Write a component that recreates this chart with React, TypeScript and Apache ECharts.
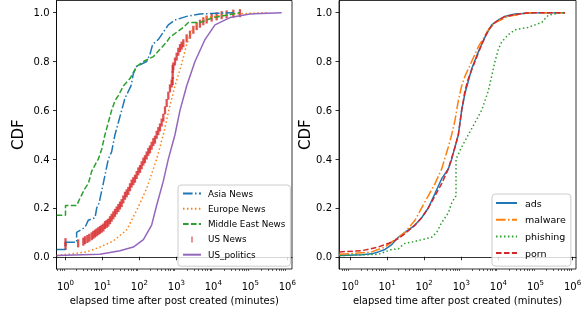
import React, { useEffect, useRef } from 'react';
import * as echarts from 'echarts';

const FONT = 'DejaVu Sans';
const X_NAME = 'elapsed time after post created (minutes)';
const Y_NAME = 'CDF';
const X_MAJOR = [1, 10, 100, 1000, 10000, 100000, 1000000];
const X_MINOR_DECADES = [0.1, 1, 10, 100, 1000, 10000, 100000];
const X_MINOR_STEPS = [2, 3, 4, 5, 6, 7, 8, 9];
const X_MINOR: number[] = [];
X_MINOR_DECADES.forEach((d) => X_MINOR_STEPS.forEach((k) => X_MINOR.push(k * d)));
const Y_TICKS = [0, 0.2, 0.4, 0.6, 0.8, 1.0];

// Left panel (news categories): [minutes, CDF]
const asiaNews = [[0.58,0.03],[1,0.03],[1,0.06],[2,0.06],[2,0.10],[3.37,0.12],[4.15,0.15],[6.3,0.16],[7.0,0.20],[8.1,0.22],[10.5,0.30],[14.4,0.40],[17.7,0.43],[21.8,0.50],[26.9,0.55],[33.1,0.60],[40.7,0.65],[59.1,0.70],[68.4,0.75],[84.2,0.78],[157,0.80],[193,0.83],[228,0.87],[324,0.89],[443,0.92],[605,0.95],[916,0.97],[1895,0.985],[4349,0.995],[34660,1.0]];
const europeNews = [[0.58,0.005],[1.08,0.01],[3.74,0.02],[8.6,0.04],[19.7,0.065],[45.2,0.11],[84.2,0.19],[157,0.28],[292,0.40],[443,0.50],[671,0.62],[916,0.70],[1388,0.79],[1895,0.87],[2871,0.94],[6588,0.98],[34660,0.995],[277000,1.0]];
const middleEastNews = [[0.58,0.17],[1,0.17],[1,0.21],[2,0.21],[2.47,0.24],[3.37,0.28],[4.15,0.30],[5.1,0.35],[7.0,0.39],[7.7,0.40],[9.5,0.44],[11.7,0.50],[14.4,0.55],[17.7,0.60],[21.8,0.64],[26.9,0.66],[36.7,0.70],[55.6,0.73],[84.2,0.78],[128,0.80],[238,0.82],[360,0.85],[546,0.88],[671,0.90],[1016,0.92],[1540,0.94],[2102,0.96],[4349,0.96],[6588,0.97],[9980,0.98],[15100,0.985],[52480,1.0]];
const usNews = [[1,0.045],[1,0.06],[2.2,0.055],[3.04,0.062],[3.37,0.068],[3.9,0.073],[4.41,0.078],[5.1,0.084],[5.66,0.09],[6.28,0.095],[6.97,0.10],[7.73,0.105],[8.58,0.11],[9.51,0.115],[10.6,0.12],[11.7,0.13],[13.0,0.135],[14.4,0.14],[16.0,0.15],[17.7,0.16],[19.7,0.17],[21.8,0.18],[24.2,0.19],[26.9,0.20],[29.8,0.21],[33.1,0.22],[36.7,0.235],[40.7,0.25],[45.2,0.26],[50.1,0.27],[55.6,0.285],[61.6,0.30],[68.4,0.31],[75.9,0.32],[84.2,0.335],[93.4,0.35],[104,0.36],[115,0.375],[128,0.39],[141,0.40],[157,0.415],[174,0.43],[193,0.44],[214,0.455],[238,0.47],[264,0.48],[293,0.50],[325,0.515],[360,0.53],[400,0.55],[443,0.57],[492,0.60],[546,0.63],[605,0.66],[671,0.69],[745,0.71],[793,0.72],[793,0.745],[793,0.77],[826,0.78],[916,0.80],[1017,0.82],[1128,0.84],[1252,0.855],[1388,0.865],[1540,0.875],[1896,0.895],[2334,0.91],[2872,0.93],[3533,0.945],[4349,0.955],[5353,0.965],[6588,0.972],[8995,0.98],[12280,0.985],[16770,0.99],[22890,0.993],[34690,0.996],[52550,0.998]];
const usPolitics = [[0.58,0.005],[8.6,0.01],[29.8,0.025],[68.4,0.04],[128,0.07],[214,0.13],[292,0.21],[443,0.31],[605,0.40],[916,0.50],[1251,0.60],[1895,0.70],[3185,0.80],[5938,0.89],[11070,0.95],[28180,0.98],[97900,0.995],[705000,1.0]];

// Right panel (site categories): [minutes, CDF]
const ads = [[0.516,0.005],[2.06,0.008],[3.84,0.012],[5.8,0.02],[8.78,0.03],[13.3,0.05],[20.1,0.08],[30.4,0.10],[56.5,0.13],[85.4,0.16],[129,0.20],[196,0.26],[296,0.32],[447,0.36],[550,0.40],[677,0.45],[832,0.50],[1023,0.60],[1258,0.67],[1547,0.72],[1903,0.77],[2879,0.84],[4353,0.90],[6584,0.95],[9960,0.97],[15060,0.985],[28020,0.995],[96900,1.0],[624000,1.0]];
const malware = [[0.516,0.01],[3.84,0.02],[8.78,0.04],[16.3,0.07],[30.4,0.10],[56.5,0.15],[85.4,0.20],[129,0.25],[196,0.30],[296,0.36],[447,0.45],[550,0.50],[677,0.56],[832,0.64],[1023,0.70],[1258,0.74],[1903,0.80],[2879,0.86],[5355,0.93],[8098,0.96],[18530,0.985],[64100,1.0],[624000,1.0]];
const phishing = [[0.516,0.005],[5.8,0.01],[13.3,0.03],[20.1,0.032],[24.7,0.045],[30.4,0.055],[45.9,0.06],[85.4,0.07],[159,0.08],[217,0.10],[296,0.14],[447,0.18],[550,0.22],[720,0.25],[720,0.40],[832,0.42],[1023,0.45],[1547,0.50],[2340,0.55],[3540,0.60],[5355,0.68],[8098,0.80],[9960,0.85],[12250,0.88],[18530,0.91],[28020,0.93],[64100,0.94],[146700,0.96],[221800,0.99],[507400,1.0],[624000,1.0]];
const porn = [[0.516,0.02],[2.06,0.025],[5.8,0.04],[13.3,0.06],[20.1,0.075],[30.4,0.095],[56.5,0.13],[85.4,0.16],[129,0.20],[196,0.25],[296,0.30],[447,0.36],[677,0.45],[832,0.50],[1023,0.60],[1258,0.68],[1547,0.73],[2340,0.80],[3540,0.87],[5355,0.93],[8098,0.96],[15060,0.985],[64100,1.0],[624000,1.0]];

const BLUE = '#1f77b4';
const ORANGE = '#ff7f0e';
const GREEN = '#2ca02c';
const RED = '#d62728';
const PURPLE = '#9467bd';
const DASHED = [5.55, 2.4];
const DASHDOT = [9.6, 2.4, 1.5, 2.4];
const DOTTED = [1.5, 2.475];

const supFormatter = (v: number) => `{b|10}{s|${Math.round(Math.log10(v))}}`;

function xAxes(gridIndex: number, min: number, max: number) {
  return [
    {
      type: 'log', gridIndex, min, max, position: 'bottom',
      axisLine: { show: true, lineStyle: { color: '#000', width: 0.8 } },
      axisTick: { show: true, length: 3.5, lineStyle: { color: '#000', width: 0.8 }, customValues: X_MAJOR },
      axisLabel: {
        customValues: X_MAJOR, margin: 10, formatter: supFormatter, color: '#000',
        rich: {
          b: { fontSize: 10, fontFamily: FONT, color: '#000', lineHeight: 14, verticalAlign: 'middle' },
          s: { fontSize: 7, fontFamily: FONT, color: '#000', lineHeight: 7, verticalAlign: 'top' },
        },
      },
      splitLine: { show: false },
      name: X_NAME, nameLocation: 'middle', nameGap: 26,
      nameTextStyle: { fontSize: 10, fontFamily: FONT, color: '#000' },
    },
    {
      type: 'log', gridIndex, min, max, position: 'bottom',
      axisLine: { show: false },
      axisTick: { show: true, length: 2, lineStyle: { color: '#000', width: 0.6 }, customValues: X_MINOR },
      axisLabel: { show: false },
      splitLine: { show: false },
    },
  ];
}

function yAxis(gridIndex: number, nameGap: number) {
  return {
    type: 'value', gridIndex, min: -0.05, max: 1.05,
    axisLine: { show: true, lineStyle: { color: '#000', width: 0.8 } },
    axisTick: { show: true, length: 3.5, lineStyle: { color: '#000', width: 0.8 }, customValues: Y_TICKS },
    axisLabel: {
      customValues: Y_TICKS, margin: 7, formatter: (v: number) => v.toFixed(1),
      fontSize: 10, fontFamily: FONT, color: '#000',
    },
    splitLine: { show: false },
    name: Y_NAME, nameLocation: 'middle', nameGap,
    nameTextStyle: { fontSize: 15, fontFamily: FONT, color: '#000' },
  };
}

function lineSeries(name: string, data: number[][], color: string, dash: any, xAxisIndex: number, yAxisIndex: number) {
  return {
    type: 'line', name, data, xAxisIndex, yAxisIndex,
    symbol: 'none', showSymbol: false,
    itemStyle: { color },
    lineStyle: { color, width: 1.5, type: dash, cap: 'butt' },
    silent: true,
  };
}

function legend(left: number, top: number, names: any[], opts: any) {
  return {
    show: true, orient: 'vertical', left, top,
    padding: opts.padding, itemGap: opts.itemGap, itemWidth: opts.itemWidth, itemHeight: 6,
    backgroundColor: 'rgba(255,255,255,0.8)', borderColor: '#cccccc', borderWidth: 1, borderRadius: 3,
    selectedMode: false,
    itemStyle: { opacity: 0 },
    lineStyle: { opacity: 1 },
    textStyle: { fontSize: opts.fontSize, fontFamily: FONT, color: '#000', lineHeight: opts.lineHeight, padding: [0, 0, 0, opts.textPad] },
    data: names,
  };
}

export default function App() {
  const ref = useRef<HTMLDivElement>(null);
  useEffect(() => {
    document.body.style.margin = '0';
    const chart = echarts.init(ref.current!, undefined, { renderer: 'svg' });
    const option: any = {
      animation: false,
      textStyle: { fontFamily: FONT },
      grid: [
        { left: 56.5, top: 0.5, width: 235.5, height: 268.5, show: true, borderColor: '#000', borderWidth: 0.8, containLabel: false },
        { left: 339, top: 0.5, width: 237, height: 268.5, show: true, borderColor: '#000', borderWidth: 0.8, containLabel: false },
      ],
      xAxis: [
        ...xAxes(0, 0.571, 1343000),
        ...xAxes(1, 0.505, 1236000),
      ],
      yAxis: [yAxis(0, 31), yAxis(1, 19)],
      legend: [
        legend(178, 185, ['Asia News', 'Europe News', 'Middle East News',
          { name: 'US News', icon: 'path://M0 0H1V6H0Z', itemStyle: { opacity: 1 } }, 'US_politics'],
          { padding: [3, 5, 6, 4], itemGap: 4.3, itemWidth: 18, fontSize: 8.8, lineHeight: 11, textPad: 2 }),
        legend(492, 194, ['ads', 'malware', 'phishing', 'porn'],
          { padding: [3, 5, 7, 3], itemGap: 4.7, itemWidth: 21, fontSize: 9.5, lineHeight: 12, textPad: 3 }),
      ],
      series: [
        lineSeries('Asia News', asiaNews, BLUE, DASHDOT, 0, 0),
        lineSeries('Europe News', europeNews, ORANGE, DOTTED, 0, 0),
        lineSeries('Middle East News', middleEastNews, GREEN, DASHED, 0, 0),
        {
          type: 'scatter', name: 'US News', data: usNews, xAxisIndex: 0, yAxisIndex: 0,
          symbol: 'rect', symbolSize: [2.3, 8], itemStyle: { color: RED }, silent: true,
        },
        lineSeries('US_politics', usPolitics, PURPLE, 'solid', 0, 0),
        lineSeries('ads', ads, BLUE, 'solid', 2, 1),
        lineSeries('malware', malware, ORANGE, DASHDOT, 2, 1),
        lineSeries('phishing', phishing, GREEN, DOTTED, 2, 1),
        lineSeries('porn', porn, RED, DASHED, 2, 1),
      ],
    };
    chart.setOption(option);
    return () => chart.dispose();
  }, []);
  return <div ref={ref} style={{ position: 'fixed', left: 0, top: 0, width: 587, height: 313 }} />;
}
